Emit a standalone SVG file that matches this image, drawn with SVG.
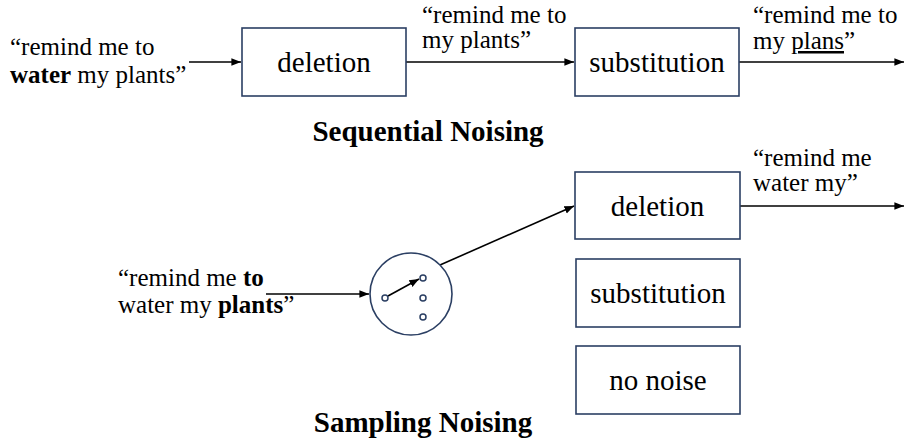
<svg xmlns="http://www.w3.org/2000/svg" width="904" height="444" viewBox="0 0 904 444" font-family="Liberation Serif, Times New Roman, serif">
<defs>
<style>
.box{fill:#fff;stroke:#2b3f63;stroke-width:1.6}
.t{font-family:'Liberation Serif','Times New Roman',serif;fill:#000}
.lbl{font-size:29px;text-anchor:middle}
.q{font-size:25px}
.ttl{font-size:29px;font-weight:bold;text-anchor:middle}
.b{font-weight:bold}
.ln{stroke:#000;stroke-width:1.6;fill:none;marker-end:url(#ah)}
.dot{fill:#fff;stroke:#2b3f63;stroke-width:1.5}
</style>
<marker id="ah" viewBox="0 0 10 10" refX="10" refY="5" markerWidth="6" markerHeight="6" orient="auto" markerUnits="strokeWidth">
<path d="M0,1 L10,5 L0,9 z" fill="#000"/>
</marker>
</defs>
<rect width="904" height="444" fill="#fff"/>

<g id="connectors">
<line class="ln" x1="189" y1="62" x2="241" y2="62"/>
<line class="ln" x1="406" y1="62" x2="574" y2="62"/>
<line class="ln" x1="739" y1="62" x2="904" y2="62"/>
<line class="ln" x1="266" y1="294" x2="369" y2="294"/>
<line class="ln" x1="440" y1="265" x2="574" y2="206"/>
<line class="ln" x1="740" y1="206" x2="904" y2="206"/>
</g>

<g id="seq-input">
<text class="t q" x="10" y="55">“remind me to</text>
<text class="t q" x="10" y="83"><tspan class="b">water</tspan> my plants”</text>
</g>
<g id="seq-deletion">
<rect class="box" x="242" y="28" width="164" height="68"/>
<text class="t lbl" x="324" y="72">deletion</text>
</g>
<g id="seq-mid-label">
<text class="t q" x="422" y="23">“remind me to</text>
<text class="t q" x="422" y="48">my plants”</text>
</g>
<g id="seq-substitution">
<rect class="box" x="575" y="28" width="164" height="68"/>
<text class="t lbl" x="657" y="72">substitution</text>
</g>
<g id="seq-output">
<text class="t q" x="753" y="23">“remind me to</text>
<text class="t q" x="753" y="49">my <tspan text-decoration="underline">plans</tspan>”</text>
</g>
<text id="title-sequential" class="t ttl" x="428" y="141">Sequential Noising</text>

<g id="samp-input">
<text class="t q" x="118" y="286">“remind me <tspan class="b">to</tspan></text>
<text class="t q" x="118" y="313">water my <tspan class="b">plants</tspan>”</text>
</g>
<g id="sampler">
<circle cx="411" cy="294" r="41" fill="#fff" stroke="#2b3f63" stroke-width="1.6"/>
<line x1="388" y1="296" x2="419" y2="279" stroke="#000" stroke-width="1.6" marker-end="url(#ah)"/>
<circle class="dot" cx="385" cy="298" r="3"/>
<circle class="dot" cx="423" cy="278" r="3"/>
<circle class="dot" cx="423" cy="298" r="3"/>
<circle class="dot" cx="423" cy="317" r="3"/>
</g>
<g id="samp-deletion">
<rect class="box" x="575" y="172" width="165" height="67"/>
<text class="t lbl" x="657.5" y="216">deletion</text>
</g>
<g id="samp-output">
<text class="t q" x="753" y="166">“remind me</text>
<text class="t q" x="753" y="191">water my”</text>
</g>
<g id="samp-substitution">
<rect class="box" x="576" y="259" width="164" height="68"/>
<text class="t lbl" x="658" y="303">substitution</text>
</g>
<g id="samp-nonoise">
<rect class="box" x="576" y="346" width="164" height="68"/>
<text class="t lbl" x="658" y="390">no noise</text>
</g>
<text id="title-sampling" class="t ttl" x="423" y="432">Sampling Noising</text>
</svg>
